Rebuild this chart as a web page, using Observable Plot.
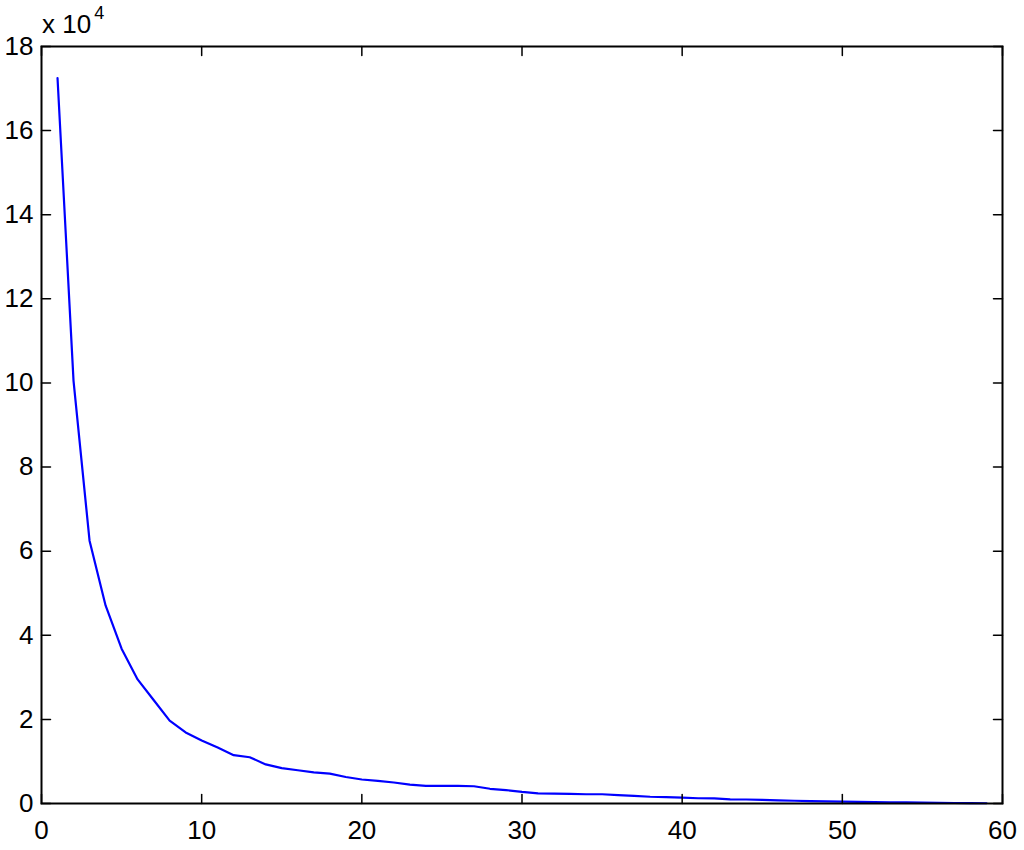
<!DOCTYPE html>
<html>
<head>
<meta charset="utf-8">
<script src="https://cdn.jsdelivr.net/npm/d3@7"></script>
<script src="https://cdn.jsdelivr.net/npm/@observablehq/plot@0.6"></script>
<style>
  body { margin: 0; background: #fff; }
  #chart svg { display: block; }
  #chart svg text { font-family: 'Liberation Sans', Arial, Helvetica, sans-serif; font-size: 26px; fill: black; }
  #chart svg text tspan.sup { font-size: 18px; }
</style>
</head>
<body>
<div id="chart"></div>
<script>
// ---- data ----
const index = [1,2,3,4,5,6,7,8,9,10,11,12,13,14,15,16,17,18,19,20,21,22,23,24,25,26,27,28,29,30,
  31,32,33,34,35,36,37,38,39,40,41,42,43,44,45,46,47,48,49,50,51,52,53,54,55,56,57,58,59];
const values = [172500,100500,62500,47100,36800,29500,24600,19700,16900,15000,
  13300,11500,11000,9300,8400,7900,7400,7100,6300,5700,
  5400,5000,4500,4200,4200,4200,4100,3500,3200,2750,
  2400,2350,2300,2200,2200,2000,1800,1600,1500,1400,
  1250,1200,1000,950,850,750,650,580,520,450,
  400,350,300,250,200,160,120,90,60];
const xTicks = [0,10,20,30,40,50,60];
const yTicks = [0,20000,40000,60000,80000,100000,120000,140000,160000,180000];
const xDomain = [0, 60];
const yDomain = [0, 180000];
const exponent = 4;

const data = index.map((x, i) => ({x, y: values[i]}));

const W = 1024, H = 850;
const mL = 41, mR = 22, mT = 46, mB = 47;
const tickLen = 9;
const tickShape = { draw(ctx, l) { ctx.moveTo(0, 0); ctx.lineTo(0, -l); } };
const tickStyle = { length: tickLen, anchor: "start", shape: tickShape, stroke: "black", strokeWidth: 1.5 };

const chart = Plot.plot({
  width: W,
  height: H,
  marginLeft: mL,
  marginRight: mR,
  marginTop: mT,
  marginBottom: mB,
  style: { color: "black", background: "white" },
  x: { domain: xDomain },
  y: { domain: yDomain },
  marks: [
    Plot.line(data, { x: "x", y: "y", stroke: "#0000ff", strokeWidth: 2.2 }),
    // inward ticks on all four sides
    Plot.vector(yTicks, { x: xDomain[0], y: d => d, rotate: 90, ...tickStyle }),
    Plot.vector(yTicks, { x: xDomain[1], y: d => d, rotate: 270, ...tickStyle }),
    Plot.vector(xTicks, { x: d => d, y: yDomain[0], rotate: 0, ...tickStyle }),
    Plot.vector(xTicks, { x: d => d, y: yDomain[1], rotate: 180, ...tickStyle }),
    Plot.axisX({ ticks: xTicks, tickSize: 0, tickPadding: 17, label: null, tickFormat: d => String(d) }),
    Plot.axisY({ ticks: yTicks, tickSize: 0, tickPadding: 8, label: null, tickFormat: d => String(d / Math.pow(10, exponent)) }),
    Plot.frame({ stroke: "black", strokeWidth: 2 })
  ]
});

// exponent label "x 10^4" above the top-left corner
const svg = d3.select(chart);
const t = svg.append("text")
  .attr("x", mL + 1)
  .attr("y", mT - 13)
  .attr("text-anchor", "start")
  .style("text-anchor", "start")
  .text("x 10");
t.append("tspan")
  .attr("class", "sup")
  .attr("dy", -14)
  .attr("dx", 3)
  .text(String(exponent));

document.getElementById("chart").append(chart);
</script>
</body>
</html>
